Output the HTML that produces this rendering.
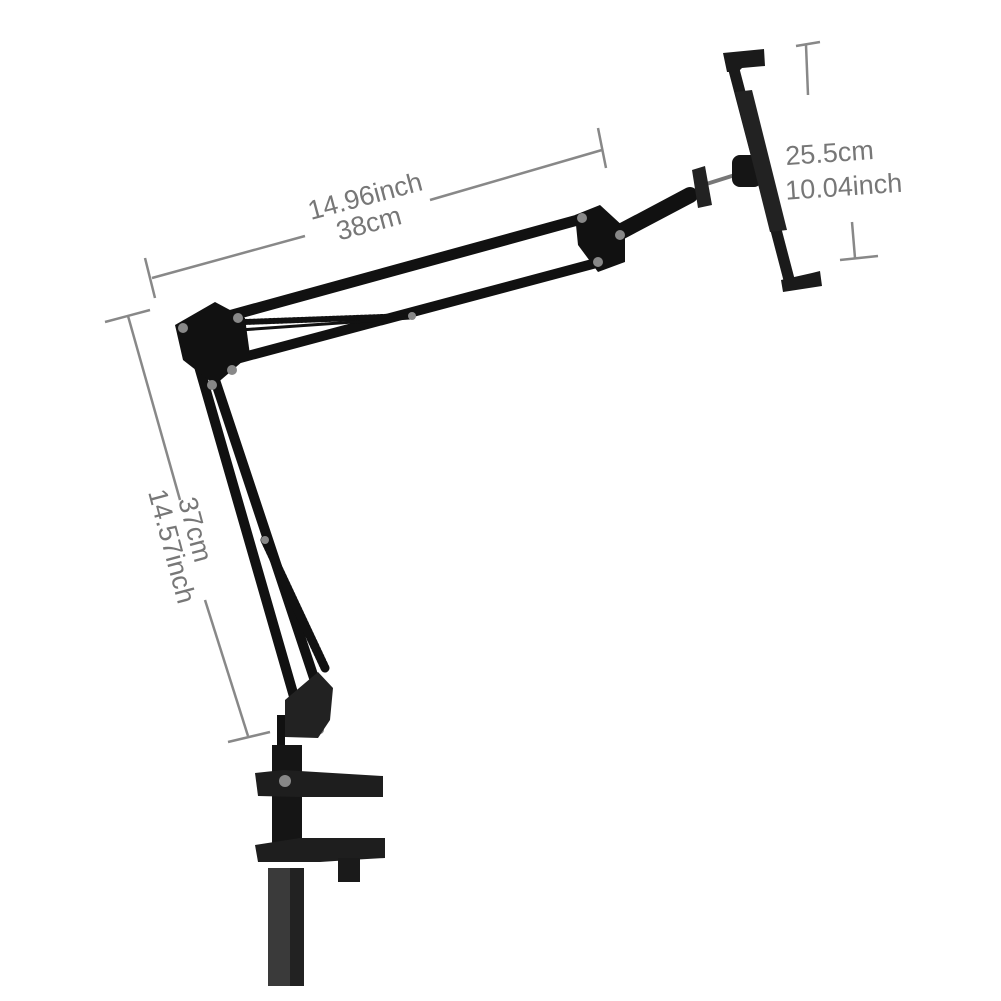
<!DOCTYPE html>
<html><head><meta charset="utf-8"><style>
html,body{margin:0;padding:0;background:#fff;}
svg{display:block}
text{font-family:"Liberation Sans",sans-serif;fill:#777;}
</style></head><body>
<svg width="1001" height="1001" viewBox="0 0 1001 1001" xmlns="http://www.w3.org/2000/svg">
<g stroke="#888" stroke-width="2.5" fill="none">
 <line x1="145" y1="258" x2="155" y2="298"/>
 <line x1="152" y1="278" x2="305" y2="236"/>
 <line x1="430" y1="200" x2="602" y2="150"/>
 <line x1="598" y1="128" x2="606" y2="168"/>
 <line x1="105" y1="322" x2="150" y2="310"/>
 <line x1="128" y1="316" x2="180" y2="500"/>
 <line x1="205" y1="600" x2="248" y2="736"/>
 <line x1="228" y1="742" x2="270" y2="732"/>
 <line x1="796" y1="46" x2="820" y2="42"/>
 <line x1="806" y1="45" x2="808" y2="95"/>
 <line x1="852" y1="222" x2="855" y2="258"/>
 <line x1="840" y1="260" x2="878" y2="256"/>
</g>
<g font-size="27">
 <text x="305" y="205" transform="rotate(-15 365 190)">14.96inch</text>
 <text x="335" y="232" transform="rotate(-15 370 220)">38cm</text>
 <text x="785" y="162" transform="rotate(-4 830 150)">25.5cm</text>
 <text x="785" y="196" transform="rotate(-4 840 185)">10.04inch</text>
 <text x="178" y="500" transform="rotate(75 178 500)">37cm</text>
 <text x="148" y="492" transform="rotate(75 148 492)">14.57inch</text>
</g>
<g stroke="#111" stroke-linecap="round">
 <line x1="185" y1="328" x2="585" y2="218" stroke-width="11"/>
 <line x1="240" y1="358" x2="600" y2="262" stroke-width="10"/>
 <line x1="245" y1="322" x2="410" y2="316" stroke-width="6" stroke-dasharray="2 2"/>
 <line x1="240" y1="330" x2="410" y2="318" stroke-width="3"/>
 <line x1="190" y1="335" x2="295" y2="700" stroke-width="10"/>
 <line x1="215" y1="380" x2="318" y2="690" stroke-width="10"/>
 <line x1="265" y1="540" x2="325" y2="668" stroke-width="9" stroke-dasharray="2 2"/>
 <line x1="605" y1="240" x2="690" y2="195" stroke-width="16"/>
 <line x1="700" y1="186" x2="735" y2="175" stroke-width="4" stroke="#777"/>
</g>
<polygon points="175,325 215,302 245,318 250,355 215,385 183,360" fill="#111"/>
<polygon points="575,215 600,205 625,228 625,262 598,272 578,245" fill="#111"/>
<polygon points="692,170 705,166 712,205 698,208" fill="#222"/>
<g fill="#888"><circle cx="183" cy="328" r="5"/><circle cx="238" cy="318" r="5"/><circle cx="232" cy="370" r="5"/><circle cx="212" cy="385" r="5"/><circle cx="582" cy="218" r="5"/><circle cx="620" cy="235" r="5"/><circle cx="598" cy="262" r="5"/><circle cx="412" cy="316" r="4"/><circle cx="265" cy="540" r="4"/><circle cx="290" cy="705" r="4"/><circle cx="320" cy="730" r="4"/></g>
<!-- tablet holder -->
<rect x="732" y="155" width="30" height="32" rx="8" fill="#151515"/>
<polygon points="727,65 738,63 797,288 786,290" fill="#1a1a1a"/>
<polygon points="735,92 752,90 787,230 770,232" fill="#222"/>
<polygon points="723,53 764,49 765,66 742,68 738,72 727,72" fill="#1a1a1a"/>
<polygon points="781,280 812,273 820,271 822,286 783,292" fill="#1a1a1a"/>
<!-- lower joint -->
<polygon points="285,700 318,672 333,688 330,720 318,738 285,737" fill="#222"/>
<rect x="277" y="715" width="8" height="30" fill="#111"/>
<!-- clamp -->
<rect x="272" y="745" width="30" height="105" fill="#151515"/>
<polygon points="255,773 283,770 383,776 383,797 300,797 258,796" fill="#1e1e1e"/>
<circle cx="285" cy="781" r="6" fill="#888"/>
<polygon points="255,845 300,838 385,838 385,858 350,860 320,862 258,862" fill="#1e1e1e"/>
<rect x="338" y="858" width="22" height="24" fill="#1a1a1a"/>
<rect x="268" y="868" width="36" height="118" fill="#3a3a3a"/>
<rect x="290" y="868" width="14" height="118" fill="#222"/>
</svg>
</body></html>
